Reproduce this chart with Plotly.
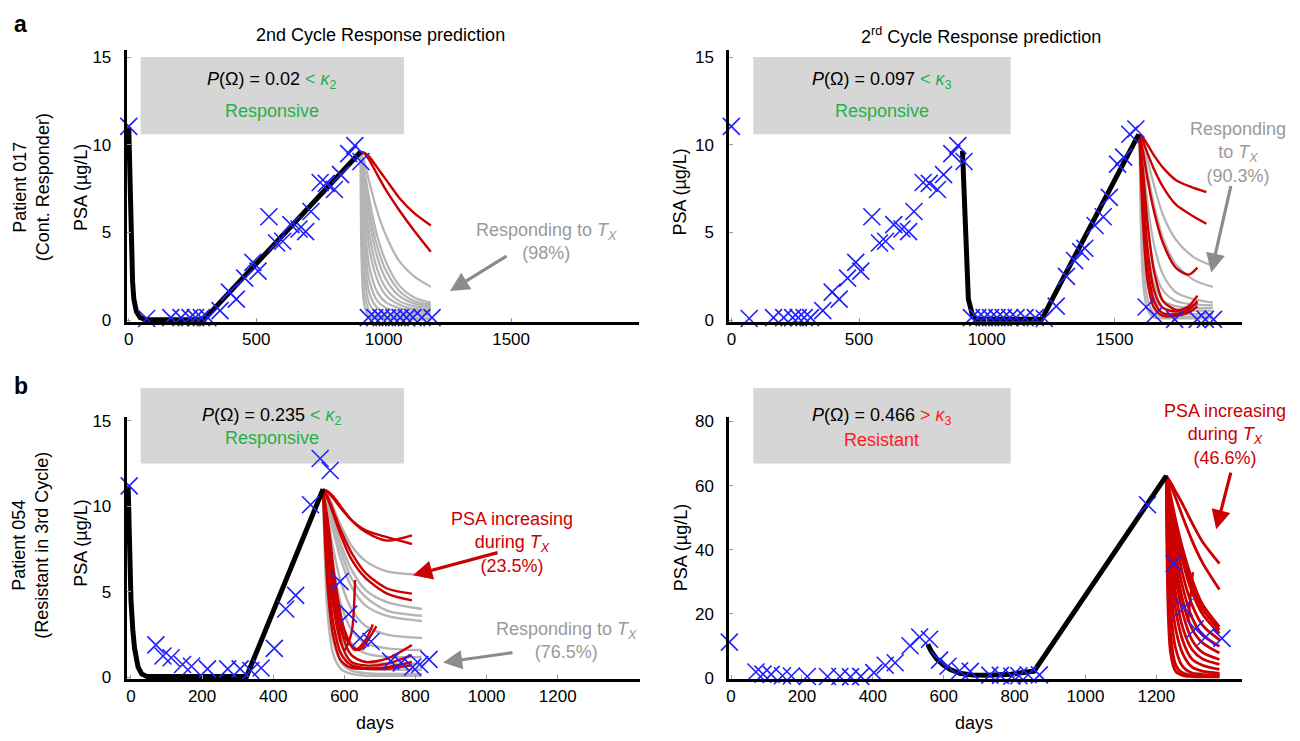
import plotly.graph_objects as go

# ---------------- DATA ----------------
# Patient 017 observed PSA (days, ug/L)
P017_DAYS = [0, 70, 165, 205, 240, 262, 285, 310, 358, 395, 422, 455, 487, 507, 550, 580, 604, 636,
             668, 694, 715, 751, 775, 807, 831, 863, 887, 911,
             940, 965, 990, 1015, 1040, 1065, 1090, 1115, 1150, 1190,
             1225, 1272, 1312, 1344, 1368, 1384, 1424, 1456, 1480, 1512, 1536, 1560, 1584,
             1624, 1656, 1736, 1824, 1856, 1888]
P017_PSA = [11.05, 0.1, 0.15, 0.15, 0.15, 0.15, 0.15, 0.15, 0.55, 1.6, 1.2, 2.4, 3.3, 2.8, 5.9, 4.4, 4.5, 5.45,
            5.2, 5.05, 6.2, 7.85, 7.8, 7.45, 8.3, 9.5, 9.95, 9.05,
            0.15, 0.15, 0.15, 0.15, 0.15, 0.15, 0.15, 0.15, 0.15, 0.15,
            0.1, 0.8, 2.5, 3.4, 3.9, 4.1, 5.4, 5.9, 7.0, 8.9, 9.3, 10.6, 10.9,
            0.75, 0.3, 0.05, 0.05, 0.05, 0.05]

# Patient 017 model fits
P017_FIT1_DAYS = [0, 5, 10, 15, 20, 30, 45, 70, 295, 910]
P017_FIT1_PSA = [11.0, 7.0, 4.0, 2.2, 1.2, 0.5, 0.15, 0.03, 0.03, 9.6]
P017_FIT2_DAYS = [905, 912, 920, 928, 944, 960, 1215, 1595]
P017_FIT2_PSA = [9.65, 6.8, 3.2, 1.2, 0.3, 0.05, 0.05, 10.6]

# Patient 017, 2nd cycle predictions
P017_C2_T = [910, 925, 945, 975, 1010, 1060, 1120, 1185]
P017_C2_RED = [
    [9.6, 9.55, 9.3, 8.7, 8.0, 7.0, 6.1, 5.4],
    [9.6, 9.5, 9.1, 8.3, 7.4, 6.3, 5.1, 3.9],
]
P017_C2_GRAY = [
    [9.6, 9.0, 7.8, 6.2, 4.8, 3.4, 2.5, 1.9],
    [9.6, 8.5, 6.8, 4.8, 3.3, 2.0, 1.3, 1.0],
    [9.6, 8.2, 6.2, 4.2, 2.8, 1.7, 1.1, 0.9],
    [9.6, 7.8, 5.6, 3.6, 2.3, 1.4, 0.95, 0.8],
    [9.6, 7.2, 4.8, 2.9, 1.8, 1.1, 0.8, 0.7],
    [9.6, 6.5, 4.0, 2.3, 1.4, 0.9, 0.65, 0.6],
    [9.6, 5.5, 3.0, 1.6, 1.0, 0.7, 0.55, 0.5],
    [9.6, 4.5, 2.2, 1.1, 0.7, 0.5, 0.4, 0.4],
    [9.6, 3.5, 1.5, 0.7, 0.4, 0.3, 0.3, 0.3],
    [9.6, 2.5, 0.9, 0.4, 0.2, 0.15, 0.15, 0.15],
    [9.6, 1.5, 0.5, 0.2, 0.1, 0.1, 0.1, 0.1],
    [9.6, 0.8, 0.2, 0.1, 0.05, 0.05, 0.05, 0.05],
]

# Patient 017, 3rd cycle predictions
P017_C3_T_LONG = [1598, 1612, 1630, 1655, 1690, 1740, 1800, 1860]
P017_C3_RED_LONG = [
    [10.6, 10.4, 10.0, 9.4, 8.7, 8.0, 7.6, 7.3],
    [10.6, 10.2, 9.5, 8.6, 7.6, 6.6, 6.0, 5.5],
]
P017_C3_T_SHORT = [1598, 1612, 1630, 1655, 1690, 1740, 1790, 1825]
P017_C3_RED_SHORT = [
    [10.6, 9.6, 8.0, 6.2, 4.4, 3.0, 2.6, 3.0],
    [10.6, 8.5, 5.5, 2.8, 1.1, 0.6, 0.7, 1.0],
    [10.6, 7.5, 4.0, 1.7, 0.7, 0.5, 0.8, 1.4],
    [10.6, 6.5, 3.0, 1.1, 0.4, 0.35, 0.6, 1.1],
    [10.6, 5.5, 2.2, 0.7, 0.25, 0.25, 0.45, 0.8],
]
P017_C3_T_GRAY = [1598, 1612, 1630, 1655, 1690, 1740, 1810, 1885]
P017_C3_GRAY = [
    [10.6, 10.1, 9.1, 7.7, 6.0, 4.6, 3.6, 3.1],
    [10.6, 9.8, 8.4, 6.6, 4.7, 3.2, 2.3, 1.9],
    [10.6, 9.0, 6.6, 4.3, 2.6, 1.6, 1.2, 1.0],
    [10.6, 8.2, 5.3, 3.0, 1.7, 1.1, 0.9, 0.85],
    [10.6, 7.2, 4.2, 2.1, 1.1, 0.8, 0.7, 0.7],
    [10.6, 6.0, 3.0, 1.3, 0.7, 0.55, 0.55, 0.55],
    [10.6, 4.8, 2.0, 0.8, 0.4, 0.35, 0.35, 0.35],
    [10.6, 3.5, 1.2, 0.4, 0.2, 0.2, 0.2, 0.2],
    [10.6, 2.2, 0.6, 0.15, 0.1, 0.1, 0.1, 0.1],
]

# Patient 054 observed PSA
P054_DAYS = [-5, 70, 90, 113, 145, 170, 215, 272, 307, 337, 366, 403, 435, 463, 505, 532, 560, 588,
             612, 645, 675, 730, 760, 792, 812, 838, 870, 1175, 1250, 1278, 1310, 1340, 1385]
P054_PSA = [11.2, 1.9, 1.25, 1.15, 0.75, 0.65, 0.5, 0.5, 0.5, 0.4, 0.55, 1.7, 4.0, 4.8, 10.1, 12.8, 12.1, 5.6,
            3.7, 2.3, 2.1, 0.95, 0.85, 0.6, 0.75, 1.05, 1.0, 54.0, 35.7, 22.0, 15.4, 12.9, 12.4]

P054_FIT1_DAYS = [-8, -4, 0, 5, 10, 20, 30, 45, 325, 540]
P054_FIT1_PSA = [11.2, 7.0, 4.5, 2.8, 1.7, 0.6, 0.2, 0.05, 0.05, 11.0]
P054_FIT2_DAYS = [555, 565, 580, 600, 620, 645, 680, 720, 790, 855, 1228]
P054_FIT2_PSA = [10.5, 8.3, 6.0, 4.0, 2.6, 1.5, 1.0, 0.9, 1.2, 2.2, 63.0]

# Patient 054, 2nd cycle predictions
P054_C2_T_RED = [540, 552, 568, 590, 620, 660, 720, 790]
P054_C2_RED = [
    [11.0, 10.9, 10.6, 10.0, 9.2, 8.5, 8.0, 8.3],
    [11.0, 10.85, 10.5, 9.9, 9.2, 8.6, 8.2, 7.8],
    [11.0, 10.6, 9.8, 8.6, 7.3, 6.1, 5.2, 4.9],
    [11.0, 10.5, 9.6, 8.3, 6.9, 5.8, 4.9, 4.5],
    [11.0, 8.5, 5.5, 2.8, 1.3, 0.9, 1.1, 1.9],
    [11.0, 7.5, 4.3, 2.0, 0.9, 0.7, 0.8, 1.3],
    [11.0, 6.5, 3.3, 1.4, 0.7, 0.55, 0.6, 0.9],
    [11.0, 5.5, 2.5, 1.0, 0.55, 0.5, 0.5, 0.7],
]
P054_C2_SPIKE_T = [
    [540, 556, 575, 600, 620, 630],
    [540, 556, 575, 600, 630, 660, 680],
    [540, 556, 575, 600, 640, 690],
]
P054_C2_SPIKE = [
    [11.0, 7.8, 4.0, 1.6, 2.6, 5.7],
    [11.0, 8.8, 5.5, 2.8, 1.6, 2.2, 3.1],
    [11.0, 8.2, 5.0, 2.4, 1.6, 3.0],
]
P054_C2_T_GRAY = [540, 552, 568, 590, 620, 660, 720, 818]
P054_C2_GRAY = [
    [11.0, 10.7, 10.0, 8.9, 7.7, 6.8, 6.2, 6.0],
    [11.0, 10.4, 9.3, 7.8, 6.3, 5.1, 4.4, 4.0],
    [11.0, 10.2, 9.0, 7.4, 5.8, 4.7, 3.9, 3.6],
    [11.0, 10.0, 8.6, 6.9, 5.3, 4.2, 3.6, 3.3],
    [11.0, 9.5, 7.6, 5.6, 4.0, 3.0, 2.5, 2.3],
    [11.0, 8.8, 6.5, 4.3, 2.8, 2.0, 1.7, 1.6],
    [11.0, 8.0, 5.3, 3.2, 2.0, 1.4, 1.2, 1.2],
    [11.0, 7.0, 4.2, 2.3, 1.3, 0.9, 0.8, 0.8],
    [11.0, 6.0, 3.2, 1.5, 0.8, 0.5, 0.45, 0.45],
    [11.0, 5.0, 2.2, 0.9, 0.4, 0.25, 0.2, 0.2],
    [11.0, 4.0, 1.4, 0.5, 0.2, 0.1, 0.1, 0.1],
]

# Patient 054, 3rd cycle predictions
P054_C3_T = [1228, 1240, 1255, 1275, 1300, 1330, 1378]
P054_C3_GRAY = [
    [63, 12, 3.0, 1.8, 1.6, 1.6, 1.6],
    [63, 10, 2.5, 1.2, 1.0, 1.0, 1.0],
]
P054_C3_RED = [
    [63, 61, 58, 54, 48.5, 42.5, 35.7],
    [63, 60, 56, 50, 43, 36, 27.6],
    [63, 57, 49, 40, 31, 23, 16],
    [63, 56, 47, 38, 29, 21.5, 15],
    [63, 55, 46, 36, 27, 20, 13.9],
    [63, 53, 43, 32, 23, 16.5, 11.9],
    [63, 51, 39, 28, 19, 13.5, 9.9],
    [63, 48, 35, 24, 15.5, 11, 7.8],
    [63, 45, 31, 20, 12, 8, 5.8],
    [63, 41, 26, 15.5, 9, 6, 4.3],
    [63, 36, 21, 11.5, 6, 4, 2.7],
    [63, 30, 15, 7.5, 3.5, 2.2, 1.5],
    [63, 22, 9, 3.5, 1.6, 1.1, 1.0],
    [63, 14, 4, 1.5, 0.8, 0.6, 0.6],
    [63, 8, 2, 0.8, 0.5, 0.4, 0.4],
]
P054_C3_SPIKE_T = [1228, 1245, 1265, 1290, 1303]
P054_C3_SPIKE = [63, 44, 27, 18, 33]

# ---------------- STYLE ----------------
FONT = "Liberation Sans, Arial, Helvetica, sans-serif"
W, H = 1300, 741
BLUE = "#1f1fff"
RED = "#cc0000"
GRAY = "#b4b4b4"
GREEN = "#1fb24a"
BRIGHT_RED = "#ff1a1a"
ANN_GRAY = "#9a9a9a"
FS = 18


def px(x):
    return x / W


def py(y):
    return 1 - y / H


fig = go.Figure()

panels = {
    "al": ("x", "y", (124, 637), (45, 322.5), [-8, 2000], [-0.1, 15.4], [0, 500, 1000, 1500], [0, 5, 10, 15]),
    "ar": ("x2", "y2", (728, 1242), (45, 322.5), [-8, 2000], [-0.1, 15.4], [0, 500, 1000, 1500], [0, 5, 10, 15]),
    "bl": ("x3", "y3", (124, 638), (420, 687), [-12, 1430], [-0.1, 15.2], [0, 200, 400, 600, 800, 1000, 1200], [0, 5, 10, 15]),
    "br": ("x4", "y4", (728, 1242), (420, 687), [-5, 1442], [-0.3, 81.2], [0, 200, 400, 600, 800, 1000, 1200], [0, 20, 40, 60, 80]),
}


def line(panel, xs, ys, color, width, shape="spline"):
    xa, ya = panels[panel][0], panels[panel][1]
    fig.add_trace(go.Scatter(x=xs, y=ys, mode="lines", xaxis=xa, yaxis=ya,
                             line=dict(color=color, width=width, shape=shape, smoothing=0.8),
                             showlegend=False, hoverinfo="skip", cliponaxis=False))


def marks(panel, xs, ys):
    xa, ya = panels[panel][0], panels[panel][1]
    fig.add_trace(go.Scatter(x=xs, y=ys, mode="markers", xaxis=xa, yaxis=ya,
                             marker=dict(symbol="x-thin", size=17, line=dict(color=BLUE, width=1.6)),
                             showlegend=False, hoverinfo="skip", cliponaxis=False))


# Panel a-left
for c in P017_C2_GRAY:
    line("al", P017_C2_T, c, GRAY, 2.2)
for c in P017_C2_RED:
    line("al", P017_C2_T, c, RED, 2.4)
line("al", P017_FIT1_DAYS, P017_FIT1_PSA, "black", 5, "linear")
sel = [(d, v) for d, v in zip(P017_DAYS, P017_PSA) if d <= 1195]
marks("al", [d for d, _ in sel], [v for _, v in sel])

# Panel a-right
for c in P017_C3_GRAY:
    line("ar", P017_C3_T_GRAY, c, GRAY, 2.2)
for c in P017_C3_RED_LONG:
    line("ar", P017_C3_T_LONG, c, RED, 2.4)
for c in P017_C3_RED_SHORT:
    line("ar", P017_C3_T_SHORT, c, RED, 2.4)
line("ar", P017_FIT2_DAYS, P017_FIT2_PSA, "black", 5, "linear")
marks("ar", P017_DAYS, P017_PSA)

# Panel b-left
for c in P054_C2_GRAY:
    line("bl", P054_C2_T_GRAY, c, GRAY, 2.4)
for c in P054_C2_RED:
    line("bl", P054_C2_T_RED, c, RED, 2.4)
for t, c in zip(P054_C2_SPIKE_T, P054_C2_SPIKE):
    line("bl", t, c, RED, 2.4)
line("bl", P054_FIT1_DAYS, P054_FIT1_PSA, "black", 5, "linear")
sel = [(d, v) for d, v in zip(P054_DAYS, P054_PSA) if d <= 850]
marks("bl", [d for d, _ in sel], [v for _, v in sel])

# Panel b-right
for c in P054_C3_GRAY:
    line("br", P054_C3_T, c, GRAY, 2.4)
for c in P054_C3_RED:
    line("br", P054_C3_T, c, RED, 2.8)
line("br", P054_C3_SPIKE_T, P054_C3_SPIKE, RED, 2.4, "linear")
line("br", P054_FIT2_DAYS, P054_FIT2_PSA, "black", 5, "linear")
marks("br", P054_DAYS, P054_PSA)

# Axes
layout_axes = {}
for name, (xa, ya, xd, yd, xr, yr, xt, yt) in panels.items():
    xkey = "xaxis" + xa[1:]
    ykey = "yaxis" + ya[1:]
    common = dict(showline=True, linecolor="black", linewidth=3, showgrid=False, zeroline=False,
                  ticks="inside", ticklen=4, tickwidth=1, tickcolor="#9a9a9a",
                  tickfont=dict(family=FONT, size=17, color="black"), fixedrange=True)
    layout_axes[xkey] = dict(domain=[px(xd[0]), px(xd[1])], range=xr, tickvals=xt,
                             anchor=ya, **common)
    layout_axes[ykey] = dict(domain=[py(yd[1]), py(yd[0])], range=yr, tickvals=yt,
                             anchor=xa, ticklabelstandoff=9, **common)

fig.update_layout(width=W, height=H, margin=dict(l=0, r=0, t=0, b=0),
                  paper_bgcolor="white", plot_bgcolor="white",
                  font=dict(family=FONT, size=FS, color="black"), **layout_axes)

# Gray info boxes
boxes = [(138, 52, 402, 131), (752, 52, 1010, 131), (138, 390, 402, 467), (752, 390, 1010, 467)]
for x0, y0, x1, y1 in boxes:
    fig.add_shape(type="rect", xref="paper", yref="paper", x0=px(x0), x1=px(x1), y0=py(y1), y1=py(y0),
                  fillcolor="#d6d6d6", line=dict(width=0), layer="below")

annotations = []


def text(x, y, s, size=FS, color="black", angle=0, xanchor="center", yanchor="middle"):
    annotations.append(dict(x=px(x), y=py(y), xref="paper", yref="paper", text=s, showarrow=False,
                            font=dict(family=FONT, size=size, color=color), textangle=angle,
                            xanchor=xanchor, yanchor=yanchor))


def arrow(hx, hy, tx, ty, color):
    annotations.append(dict(x=px(hx), y=py(hy), xref="paper", yref="paper", ax=tx - hx, ay=ty - hy,
                            axref="pixel", ayref="pixel", text="", showarrow=True,
                            arrowhead=2, arrowsize=1.2, arrowwidth=3.2, arrowcolor=color))


# Box texts
text(270, 76, "<i>P</i>(Ω) = 0.02 <span style='color:%s'>&lt; <i>κ</i><sub>2</sub></span>" % GREEN)
text(270, 107, "Responsive", color=GREEN)
text(881, 76, "<i>P</i>(Ω) = 0.097 <span style='color:%s'>&lt; <i>κ</i><sub>3</sub></span>" % GREEN)
text(881, 107, "Responsive", color=GREEN)
text(270, 419, "<i>P</i>(Ω) = 0.235 <span style='color:%s'>&lt; <i>κ</i><sub>2</sub></span>" % GREEN)
text(270, 441, "Responsive", color=GREEN)
text(881, 419, "<i>P</i>(Ω) = 0.466 <span style='color:%s'>&gt; <i>κ</i><sub>3</sub></span>" % BRIGHT_RED)
text(881, 443, "Resistant", color=BRIGHT_RED)

# Titles and labels
text(378, 30, "2nd Cycle Response prediction")
text(980, 30, "2<sup>rd</sup> Cycle Response prediction")
text(18, 18, "<b>a</b>", size=23)
text(18, 388, "<b>b</b>", size=23)
text(28, 185, "Patient 017<br>(Cont. Responder)", angle=-90)
text(28, 550, "Patient 054<br>(Resistant in 3rd Cycle)", angle=-90)
text(78, 185, "PSA (µg/L)", angle=-90)
text(679, 190, "PSA (µg/L)", angle=-90)
text(78, 548, "PSA (µg/L)", angle=-90)
text(679, 553, "PSA (µg/L)", angle=-90)
text(373, 732, "days")
text(973, 732, "days")

# Curve annotations
text(545, 240, "Responding to <i>T</i><sub><i>X</i></sub><br>(98%)", color=ANN_GRAY)
arrow(448, 291, 506, 255, "#8c8c8c")
text(1238, 150, "Responding<br>to <i>T</i><sub><i>X</i></sub><br>(90.3%)", color=ANN_GRAY)
arrow(1211, 272, 1231, 184, "#8c8c8c")
text(510, 548, "PSA increasing<br>during <i>T</i><sub><i>X</i></sub><br>(23.5%)", color=RED)
arrow(411, 581, 497, 558, RED)
text(565, 648, "Responding to <i>T</i><sub><i>X</i></sub><br>(76.5%)", color=ANN_GRAY)
arrow(441, 670, 512, 660, "#8c8c8c")
text(1225, 437, "PSA increasing<br>during <i>T</i><sub><i>X</i></sub><br>(46.6%)", color=RED)
arrow(1216, 534, 1231, 476, RED)

fig.update_layout(annotations=annotations)
fig.write_html("out.html", config={"displayModeBar": False},
               post_script="document.body.style.margin='0';")
